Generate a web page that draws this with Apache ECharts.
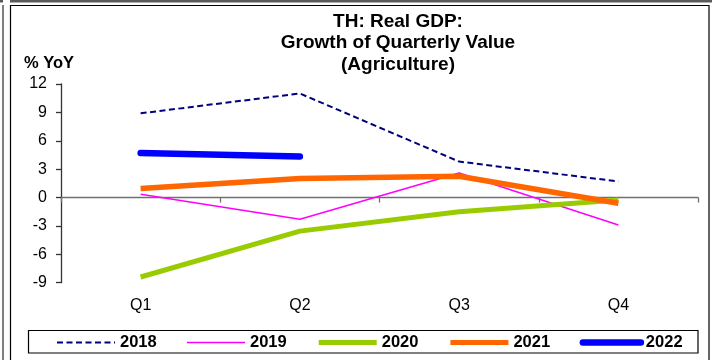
<!DOCTYPE html>
<html>
<head>
<meta charset="utf-8">
<script src="https://cdn.jsdelivr.net/npm/echarts@6/dist/echarts.min.js"></script>
<style>
html,body{margin:0;padding:0;background:#fff;}
#chart{width:712px;height:360px;}
</style>
</head>
<body>
<div id="chart"></div>
<script>
var quarters = ['Q1', 'Q2', 'Q3', 'Q4'];
var s2018 = [8.9, 11.0, 3.8, 1.7];
var s2019 = [0.35, -2.3, 2.6, -2.9];
var s2020 = [-8.4, -3.55, -1.5, -0.25];
var s2021 = [0.95, 2.0, 2.25, -0.6];
var s2022 = [4.7, 4.35, null, null];
var yTicks = { min: -9, max: 12, interval: 3 };

var FONT = '"Liberation Sans", Arial, sans-serif';
var chart = echarts.init(document.getElementById('chart'));

function lineSeries(name, data, color, width, type, cap) {
  return {
    name: name, type: 'line', data: data, symbol: 'none', showSymbol: false,
    xAxisIndex: 0, yAxisIndex: 0, animation: false, connectNulls: false,
    lineStyle: { color: color, width: width, type: type || 'solid', cap: cap || 'butt', join: 'round' },
    itemStyle: { color: color }
  };
}

chart.setOption({
  animation: false,
  backgroundColor: '#fff',
  title: {
    text: 'TH: Real GDP:\nGrowth of Quarterly Value\n(Agriculture)',
    left: 393, top: 6, textAlign: 'center',
    textStyle: { fontFamily: FONT, fontSize: 19, fontWeight: 'bold', color: '#000', lineHeight: 21.5 }
  },
  grid: { left: 61, right: 14, top: 84, bottom: 77.3, containLabel: false },
  xAxis: [{
    type: 'category', data: quarters, boundaryGap: true, position: 'bottom',
    axisLine: { show: true, onZero: true, lineStyle: { color: '#707070', width: 1.3 } },
    axisTick: { show: true, inside: false, length: 5, alignWithLabel: false, lineStyle: { color: '#707070', width: 1.3 } },
    axisLabel: { show: false }, splitLine: { show: false }
  }, {
    type: 'category', data: quarters, boundaryGap: true, position: 'bottom',
    axisLine: { show: false, onZero: false }, axisTick: { show: false },
    axisLabel: { fontFamily: FONT, fontSize: 16, color: '#000', margin: 15 },
    splitLine: { show: false }
  }],
  yAxis: {
    type: 'value', min: yTicks.min, max: yTicks.max, interval: yTicks.interval,
    axisLine: { show: true, lineStyle: { color: '#333', width: 1.3 } },
    axisTick: { show: true, length: 5, lineStyle: { color: '#333', width: 1.3 } },
    axisLabel: { fontFamily: FONT, fontSize: 16, color: '#000', margin: 14 },
    splitLine: { show: false }
  },
  legend: {
    left: 56, top: 334, padding: 0, itemGap: 29.5, itemWidth: 58, itemHeight: 14,
    textStyle: { fontFamily: FONT, fontSize: 16.5, fontWeight: 'bold', color: '#000' },
    itemStyle: { opacity: 0, color: 'transparent', borderWidth: 0 },
    data: [
      { name: '2018', lineStyle: { width: 2 } },
      { name: '2019', lineStyle: { width: 1.6 } },
      { name: '2020', lineStyle: { width: 5 } },
      { name: '2021', lineStyle: { width: 5 } },
      { name: '2022', lineStyle: { width: 6.5, cap: 'round' } }
    ]
  },
  graphic: [
    { type: 'rect', shape: { x: 0, y: 0, width: 3, height: 2.5 }, style: { fill: '#5a5a5a' }, silent: true },
    { type: 'rect', shape: { x: 10, y: 0, width: 702, height: 2.5 }, style: { fill: '#5a5a5a' }, silent: true },
    { type: 'line', shape: { x1: 3, y1: 5, x2: 3, y2: 360 }, style: { stroke: '#000', lineWidth: 1 }, silent: true },
    { type: 'rect', shape: { x: 10.5, y: 5.5, width: 698.5, height: 360 }, style: { fill: 'none', stroke: '#000', lineWidth: 1.2 }, silent: true },
    { type: 'rect', shape: { x: 28.5, y: 330.5, width: 669.5, height: 22.5 }, style: { fill: 'none', stroke: '#000', lineWidth: 1.2 }, silent: true, z: 1 },
    { type: 'text', left: 24, top: 55, style: { text: '% YoY', fontFamily: FONT, fontSize: 16.5, fontWeight: 'bold', fill: '#000' }, silent: true }
  ],
  series: [
    lineSeries('2018', s2018, '#000080', 2, [6, 3.5]),
    lineSeries('2019', s2019, '#ff00ff', 1.6),
    lineSeries('2020', s2020, '#99cc00', 5),
    lineSeries('2021', s2021, '#ff6600', 5.5),
    lineSeries('2022', s2022, '#0000ff', 6.5, 'solid', 'round')
  ]
});
</script>
</body>
</html>
